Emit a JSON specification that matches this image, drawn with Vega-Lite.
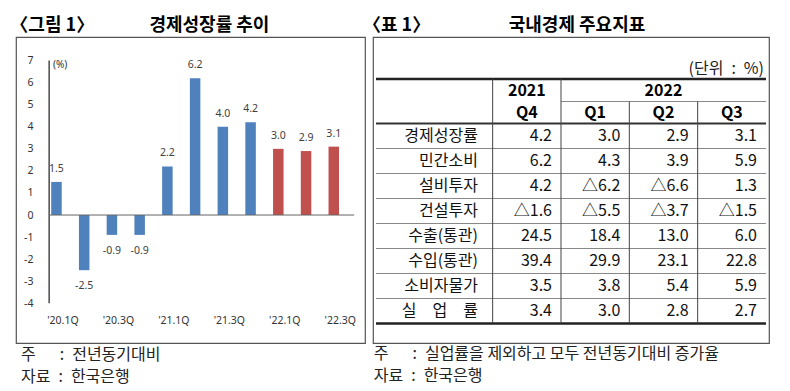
{
  "$schema": "https://vega.github.io/schema/vega-lite/v6.json",
  "padding": {"left": 9, "top": 16, "right": 0, "bottom": 0},
  "spacing": 8,
  "bounds": "flush",
  "config": {
    "view": {"stroke": "#555555", "strokeWidth": 1.2},
    "font": "Noto Sans CJK KR",
    "axis": {"labelOverlap": false, "labelSeparation": 0},
    "locale": {"number": {"decimal": ".", "thousands": ",", "grouping": [3], "currency": ["", ""], "minus": "-"}}
  },
  "hconcat": [
    {
      "width": 349,
      "height": 306,
      "data": {"values": [
        {"quarter": "'20.1Q", "t": 2020.0, "year": "2020", "v": 1.5},
        {"quarter": "'20.2Q", "t": 2020.25, "year": "2020", "v": -2.5},
        {"quarter": "'20.3Q", "t": 2020.5, "year": "2020", "v": -0.9},
        {"quarter": "'20.4Q", "t": 2020.75, "year": "2020", "v": -0.9},
        {"quarter": "'21.1Q", "t": 2021.0, "year": "2021", "v": 2.2},
        {"quarter": "'21.2Q", "t": 2021.25, "year": "2021", "v": 6.2},
        {"quarter": "'21.3Q", "t": 2021.5, "year": "2021", "v": 4.0},
        {"quarter": "'21.4Q", "t": 2021.75, "year": "2021", "v": 4.2},
        {"quarter": "'22.1Q", "t": 2022.0, "year": "2022", "v": 3.0},
        {"quarter": "'22.2Q", "t": 2022.25, "year": "2022", "v": 2.9},
        {"quarter": "'22.3Q", "t": 2022.5, "year": "2022", "v": 3.1}
      ]},
      "layer": [
        {
          "mark": {"type": "bar", "orient": "vertical", "size": 10.5},
          "encoding": {
            "x": {"field": "t", "type": "quantitative",
              "scale": {"domain": [2019.6804, 2022.7364], "nice": false, "zero": false},
              "axis": {"orient": "bottom", "offset": -28, "values": [2020, 2020.5, 2021, 2021.5, 2022, 2022.5],
                "labelExpr": "\"'\" + (floor(datum.value) - 2000) + '.' + (round((datum.value - floor(datum.value)) * 4) + 1) + 'Q'",
                "domain": false, "ticks": false, "tickSize": 0, "grid": false, "labelPadding": 0, "labelOffset": 6,
                "labelFlush": false, "labelOverlap": false, "labelFont": "Noto Sans", "labelFontSize": 10.5, "labelColor": "#333333", "title": null}},
            "y": {"field": "v", "type": "quantitative",
              "scale": {"domain": [-5.80, 8.069], "nice": false, "zero": false},
              "axis": {"orient": "left", "offset": -17, "values": [-4, -3, -2, -1, 0, 1, 2, 3, 4, 5, 6, 7], "tickCount": 12, "format": "d",
                "domain": false, "ticks": false, "tickSize": 0, "grid": false, "labelPadding": 0, "labelFlush": false, "labelOverlap": false,
                "labelFont": "Noto Sans", "labelFontSize": 10.5, "labelColor": "#333333", "title": null}},
            "y2": {"datum": 0},
            "color": {"field": "year", "type": "nominal",
              "scale": {"domain": ["2020", "2021", "2022"], "range": ["#4F81BD", "#4F81BD", "#C0504D"]}, "legend": null}
          }
        },
        {
          "transform": [{"filter": "datum.v >= 0"}],
          "mark": {"type": "text", "baseline": "middle", "dy": -13, "font": "Noto Sans", "fontSize": 10.5, "color": "#404040"},
          "encoding": {
            "x": {"field": "t", "type": "quantitative"},
            "y": {"field": "v", "type": "quantitative"},
            "text": {"field": "v", "type": "quantitative", "format": ".1f"}
          }
        },
        {
          "transform": [{"filter": "datum.v < 0"}],
          "mark": {"type": "text", "baseline": "middle", "dy": 16, "font": "Noto Sans", "fontSize": 10.5, "color": "#404040"},
          "encoding": {
            "x": {"field": "t", "type": "quantitative"},
            "y": {"field": "v", "type": "quantitative"},
            "text": {"field": "v", "type": "quantitative", "format": ".1f"}
          }
        },
        {
          "data": {"values": [{}]},
          "mark": {"type": "rule", "color": "#555555", "strokeWidth": 1.6},
          "encoding": {"x": {"datum": 2019.9343}, "x2": {"datum": 2019.9343}, "y": {"datum": 7}, "y2": {"datum": -4}}
        },
        {
          "data": {"values": [{}]},
          "mark": {"type": "rule", "color": "#666666", "strokeWidth": 1},
          "encoding": {"x": {"datum": 2019.9343}, "x2": {"datum": 2022.684}, "y": {"datum": 0}}
        },
        {
          "data": {"values": [{}]},
          "mark": {"type": "text", "text": "(%)", "align": "left", "baseline": "middle", "font": "Noto Sans", "fontSize": 10, "color": "#333333"},
          "encoding": {"x": {"datum": 2019.969}, "y": {"datum": 6.8}}
        },
        {
          "data": {"values": [{}]},
          "mark": {"type": "text", "text": "〈그림 1〉", "align": "left", "baseline": "middle", "fontSize": 18, "fontWeight": "bold", "color": "#000000"},
          "encoding": {"x": {"datum": 2019.5841}, "y": {"datum": 8.567}}
        },
        {
          "data": {"values": [{}]},
          "mark": {"type": "text", "text": "경제성장률 추이", "align": "center", "baseline": "middle", "fontSize": 18, "fontWeight": "bold", "color": "#000000"},
          "encoding": {"x": {"datum": 2021.379}, "y": {"datum": 8.567}}
        },
        {
          "data": {"values": [{}]},
          "mark": {"type": "text", "text": "주\u3000\u2002:\u2002전년동기대비", "align": "left", "baseline": "middle", "fontSize": 16, "color": "#222222"},
          "encoding": {"x": {"datum": 2019.6804}, "y": {"datum": -6.33}}
        },
        {
          "data": {"values": [{}]},
          "mark": {"type": "text", "text": "자료\u2002:\u2002한국은행", "align": "left", "baseline": "middle", "fontSize": 16, "color": "#222222"},
          "encoding": {"x": {"datum": 2019.6804}, "y": {"datum": -7.33}}
        }
      ]
    },
    {
      "width": 396,
      "height": 306,
      "data": {"values": [
        {"indicator": "경제성장률", "row": 0, "period": "2021 Q4", "col": 1, "v": 4.2},
        {"indicator": "경제성장률", "row": 0, "period": "2022 Q1", "col": 2, "v": 3.0},
        {"indicator": "경제성장률", "row": 0, "period": "2022 Q2", "col": 3, "v": 2.9},
        {"indicator": "경제성장률", "row": 0, "period": "2022 Q3", "col": 4, "v": 3.1},
        {"indicator": "민간소비", "row": 1, "period": "2021 Q4", "col": 1, "v": 6.2},
        {"indicator": "민간소비", "row": 1, "period": "2022 Q1", "col": 2, "v": 4.3},
        {"indicator": "민간소비", "row": 1, "period": "2022 Q2", "col": 3, "v": 3.9},
        {"indicator": "민간소비", "row": 1, "period": "2022 Q3", "col": 4, "v": 5.9},
        {"indicator": "설비투자", "row": 2, "period": "2021 Q4", "col": 1, "v": 4.2},
        {"indicator": "설비투자", "row": 2, "period": "2022 Q1", "col": 2, "v": -6.2},
        {"indicator": "설비투자", "row": 2, "period": "2022 Q2", "col": 3, "v": -6.6},
        {"indicator": "설비투자", "row": 2, "period": "2022 Q3", "col": 4, "v": 1.3},
        {"indicator": "건설투자", "row": 3, "period": "2021 Q4", "col": 1, "v": -1.6},
        {"indicator": "건설투자", "row": 3, "period": "2022 Q1", "col": 2, "v": -5.5},
        {"indicator": "건설투자", "row": 3, "period": "2022 Q2", "col": 3, "v": -3.7},
        {"indicator": "건설투자", "row": 3, "period": "2022 Q3", "col": 4, "v": -1.5},
        {"indicator": "수출(통관)", "row": 4, "period": "2021 Q4", "col": 1, "v": 24.5},
        {"indicator": "수출(통관)", "row": 4, "period": "2022 Q1", "col": 2, "v": 18.4},
        {"indicator": "수출(통관)", "row": 4, "period": "2022 Q2", "col": 3, "v": 13.0},
        {"indicator": "수출(통관)", "row": 4, "period": "2022 Q3", "col": 4, "v": 6.0},
        {"indicator": "수입(통관)", "row": 5, "period": "2021 Q4", "col": 1, "v": 39.4},
        {"indicator": "수입(통관)", "row": 5, "period": "2022 Q1", "col": 2, "v": 29.9},
        {"indicator": "수입(통관)", "row": 5, "period": "2022 Q2", "col": 3, "v": 23.1},
        {"indicator": "수입(통관)", "row": 5, "period": "2022 Q3", "col": 4, "v": 22.8},
        {"indicator": "소비자물가", "row": 6, "period": "2021 Q4", "col": 1, "v": 3.5},
        {"indicator": "소비자물가", "row": 6, "period": "2022 Q1", "col": 2, "v": 3.8},
        {"indicator": "소비자물가", "row": 6, "period": "2022 Q2", "col": 3, "v": 5.4},
        {"indicator": "소비자물가", "row": 6, "period": "2022 Q3", "col": 4, "v": 5.9},
        {"indicator": "실\u3000업\u3000률", "row": 7, "period": "2021 Q4", "col": 1, "v": 3.4},
        {"indicator": "실\u3000업\u3000률", "row": 7, "period": "2022 Q1", "col": 2, "v": 3.0},
        {"indicator": "실\u3000업\u3000률", "row": 7, "period": "2022 Q2", "col": 3, "v": 2.8},
        {"indicator": "실\u3000업\u3000률", "row": 7, "period": "2022 Q3", "col": 4, "v": 2.7}
      ]},
      "layer": [
        {
          "mark": {"type": "text", "align": "right", "baseline": "middle", "dx": -9, "fontSize": 16, "color": "#111111",
            "text": {"expr": "(datum.v < 0 ? '△' : '') + format(abs(datum.v), '.1f')"}},
          "encoding": {
            "x": {"field": "col", "type": "quantitative", "scale": {"domain": [-1.751, 4.044], "nice": false, "zero": false}, "axis": null},
            "y": {"field": "row", "type": "quantitative", "scale": {"domain": [-3.96, 8.28], "nice": false, "zero": false, "reverse": true}, "axis": null}
          }
        },
        {
          "transform": [{"filter": "datum.col == 1"}],
          "mark": {"type": "text", "align": "right", "baseline": "middle", "fontSize": 16, "color": "#111111"},
          "encoding": {
            "x": {"datum": -0.215},
            "y": {"field": "row", "type": "quantitative"},
            "text": {"field": "indicator", "type": "nominal"}
          }
        },
        {"data": {"values": [{}]}, "mark": {"type": "text", "text": "2021", "align": "center", "baseline": "middle", "fontSize": 16, "fontWeight": "bold", "color": "#000000"},
          "encoding": {"x": {"datum": 0.5}, "y": {"datum": -1.82}}},
        {"data": {"values": [{}]}, "mark": {"type": "text", "text": "2022", "align": "center", "baseline": "middle", "fontSize": 16, "fontWeight": "bold", "color": "#000000"},
          "encoding": {"x": {"datum": 2.5}, "y": {"datum": -1.82}}},
        {"data": {"values": [{}]}, "mark": {"type": "text", "text": "Q4", "align": "center", "baseline": "middle", "fontSize": 16, "fontWeight": "bold", "color": "#000000"},
          "encoding": {"x": {"datum": 0.5}, "y": {"datum": -0.94}}},
        {"data": {"values": [{}]}, "mark": {"type": "text", "text": "Q1", "align": "center", "baseline": "middle", "fontSize": 16, "fontWeight": "bold", "color": "#000000"},
          "encoding": {"x": {"datum": 1.5}, "y": {"datum": -0.94}}},
        {"data": {"values": [{}]}, "mark": {"type": "text", "text": "Q2", "align": "center", "baseline": "middle", "fontSize": 16, "fontWeight": "bold", "color": "#000000"},
          "encoding": {"x": {"datum": 2.5}, "y": {"datum": -0.94}}},
        {"data": {"values": [{}]}, "mark": {"type": "text", "text": "Q3", "align": "center", "baseline": "middle", "fontSize": 16, "fontWeight": "bold", "color": "#000000"},
          "encoding": {"x": {"datum": 3.5}, "y": {"datum": -0.94}}},
        {"data": {"values": [{}]}, "mark": {"type": "text", "text": "(단위\u2002:\u2002%)", "align": "right", "baseline": "middle", "fontSize": 16, "color": "#222222"},
          "encoding": {"x": {"datum": 3.971}, "y": {"datum": -2.7}}},
        {"data": {"values": [{}]}, "mark": {"type": "rule", "color": "#222222", "strokeWidth": 2.5},
          "encoding": {"x": {"datum": -1.707}, "x2": {"datum": 4.0}, "y": {"datum": -2.28}}},
        {"data": {"values": [{}]}, "mark": {"type": "rule", "color": "#888888", "strokeWidth": 1},
          "encoding": {"x": {"datum": 1}, "x2": {"datum": 4.0}, "y": {"datum": -1.38}}},
        {"data": {"values": [{}]}, "mark": {"type": "rule", "color": "#333333", "strokeWidth": 2},
          "encoding": {"x": {"datum": -1.707}, "x2": {"datum": 4.0}, "y": {"datum": -0.5}}},
        {"data": {"values": [{}]}, "mark": {"type": "rule", "color": "#888888", "strokeWidth": 1},
          "encoding": {"x": {"datum": -1.707}, "x2": {"datum": 4.0}, "y": {"datum": 0.5}}},
        {"data": {"values": [{}]}, "mark": {"type": "rule", "color": "#888888", "strokeWidth": 1},
          "encoding": {"x": {"datum": -1.707}, "x2": {"datum": 4.0}, "y": {"datum": 1.5}}},
        {"data": {"values": [{}]}, "mark": {"type": "rule", "color": "#888888", "strokeWidth": 1},
          "encoding": {"x": {"datum": -1.707}, "x2": {"datum": 4.0}, "y": {"datum": 2.5}}},
        {"data": {"values": [{}]}, "mark": {"type": "rule", "color": "#888888", "strokeWidth": 1},
          "encoding": {"x": {"datum": -1.707}, "x2": {"datum": 4.0}, "y": {"datum": 3.5}}},
        {"data": {"values": [{}]}, "mark": {"type": "rule", "color": "#888888", "strokeWidth": 1},
          "encoding": {"x": {"datum": -1.707}, "x2": {"datum": 4.0}, "y": {"datum": 4.5}}},
        {"data": {"values": [{}]}, "mark": {"type": "rule", "color": "#888888", "strokeWidth": 1},
          "encoding": {"x": {"datum": -1.707}, "x2": {"datum": 4.0}, "y": {"datum": 5.5}}},
        {"data": {"values": [{}]}, "mark": {"type": "rule", "color": "#888888", "strokeWidth": 1},
          "encoding": {"x": {"datum": -1.707}, "x2": {"datum": 4.0}, "y": {"datum": 6.5}}},
        {"data": {"values": [{}]}, "mark": {"type": "rule", "color": "#222222", "strokeWidth": 2.5},
          "encoding": {"x": {"datum": -1.707}, "x2": {"datum": 4.0}, "y": {"datum": 7.5}}},
        {"data": {"values": [{}]}, "mark": {"type": "rule", "color": "#444444", "strokeWidth": 1},
          "encoding": {"x": {"datum": 0}, "x2": {"datum": 0}, "y": {"datum": -2.28}, "y2": {"datum": 7.5}}},
        {"data": {"values": [{}]}, "mark": {"type": "rule", "color": "#444444", "strokeWidth": 1},
          "encoding": {"x": {"datum": 1}, "x2": {"datum": 1}, "y": {"datum": -2.28}, "y2": {"datum": 7.5}}},
        {"data": {"values": [{}]}, "mark": {"type": "rule", "color": "#444444", "strokeWidth": 1},
          "encoding": {"x": {"datum": 2}, "x2": {"datum": 2}, "y": {"datum": -1.38}, "y2": {"datum": 7.5}}},
        {"data": {"values": [{}]}, "mark": {"type": "rule", "color": "#444444", "strokeWidth": 1},
          "encoding": {"x": {"datum": 3}, "x2": {"datum": 3}, "y": {"datum": -1.38}, "y2": {"datum": 7.5}}},
        {"data": {"values": [{}]}, "mark": {"type": "text", "text": "〈표 1〉", "align": "left", "baseline": "middle", "fontSize": 18, "fontWeight": "bold", "color": "#000000"},
          "encoding": {"x": {"datum": -1.8977}, "y": {"datum": -4.40}}},
        {"data": {"values": [{}]}, "mark": {"type": "text", "text": "국내경제 주요지표", "align": "center", "baseline": "middle", "fontSize": 18, "fontWeight": "bold", "color": "#000000"},
          "encoding": {"x": {"datum": 1.234}, "y": {"datum": -4.40}}},
        {"data": {"values": [{}]}, "mark": {"type": "text", "text": "주\u3000\u2002:\u2002실업률을 제외하고 모두 전년동기대비 증가율", "align": "left", "baseline": "middle", "fontSize": 16, "color": "#222222"},
          "encoding": {"x": {"datum": -1.74}, "y": {"datum": 8.72}}},
        {"data": {"values": [{}]}, "mark": {"type": "text", "text": "자료\u2002:\u2002한국은행", "align": "left", "baseline": "middle", "fontSize": 16, "color": "#222222"},
          "encoding": {"x": {"datum": -1.74}, "y": {"datum": 9.60}}}
      ]
    }
  ]
}
